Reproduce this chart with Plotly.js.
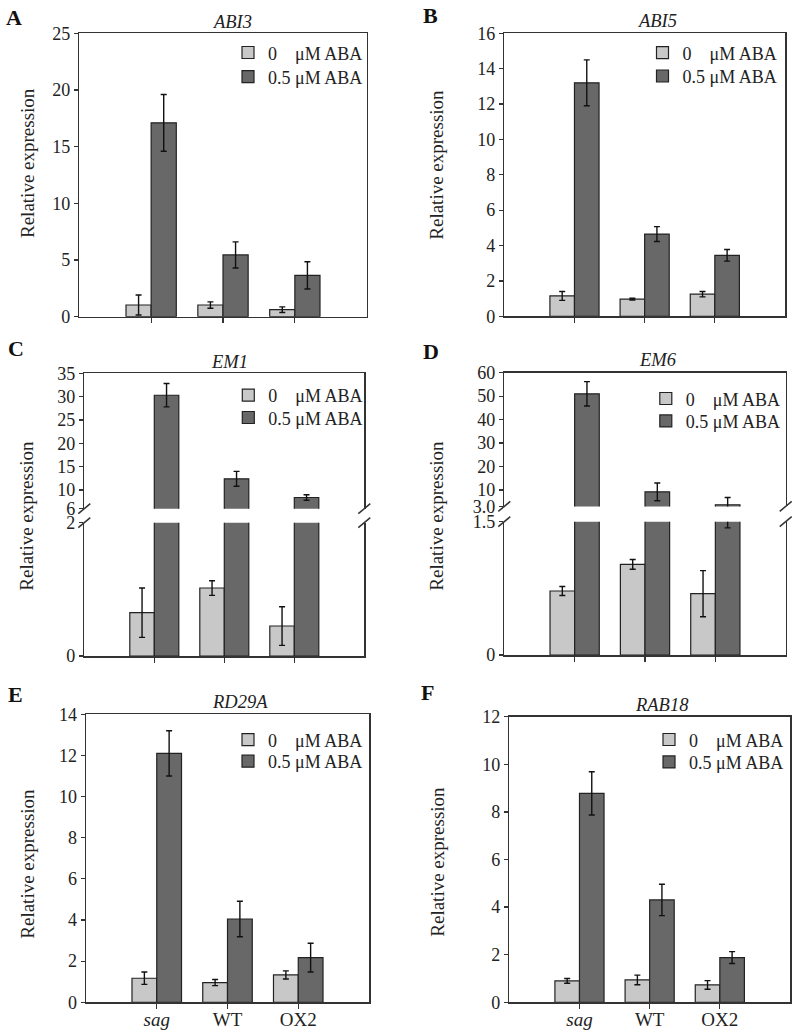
<!DOCTYPE html>
<html><head><meta charset="utf-8">
<script src="https://cdn.plot.ly/plotly-3.0.1.min.js"></script>
<style>body{margin:0;background:#fff}#chart{width:800px;height:1033px}</style>
</head><body><div id="chart"></div>
<script>
// ---------- data ----------
const categories = ['sag', 'WT', 'OX2'];
const categoryLabels = ['<i>sag</i>', 'WT', 'OX2'];
const genes = ['ABI3', 'ABI5', 'EM1', 'EM6', 'RD29A', 'RAB18'];
const panelLetters = ['A', 'B', 'C', 'D', 'E', 'F'];
const seriesNames = ['0\u00A0\u00A0\u00A0\u00A0\u03BCM ABA', '0.5 \u03BCM ABA'];
const yTitle = 'Relative expression';

const abi3Ctrl = [1.03, 1.03, 0.62], abi3CtrlErr = [0.88, 0.28, 0.25];
const abi3Aba = [17.1, 5.45, 3.65], abi3AbaErr = [2.5, 1.15, 1.2];

const abi5Ctrl = [1.15, 0.97, 1.25], abi5CtrlErr = [0.25, 0.05, 0.15];
const abi5Aba = [13.2, 4.65, 3.45], abi5AbaErr = [1.3, 0.42, 0.33];

const em1Ctrl = [0.65, 1.02, 0.45], em1CtrlErr = [0.37, 0.11, 0.29];
const em1Aba = [30.3, 12.4, 8.4], em1AbaErr = [2.5, 1.6, 0.6];

const em6Ctrl = [0.72, 1.02, 0.69], em6CtrlErr = [0.05, 0.055, 0.26];
const em6Aba = [51, 9.2, 3.7], em6AbaErr = [5.2, 3.8, 3.1], em6AbaErrMinus = [5.2, 3.8, 2.27];

const rd29aCtrl = [1.17, 0.96, 1.33], rd29aCtrlErr = [0.3, 0.15, 0.2];
const rd29aAba = [12.1, 4.05, 2.17], rd29aAbaErr = [1.1, 0.86, 0.7];

const rab18Ctrl = [0.9, 0.94, 0.73], rab18CtrlErr = [0.1, 0.2, 0.18];
const rab18Aba = [8.78, 4.3, 1.88], rab18AbaErr = [0.91, 0.66, 0.25];

// tick definitions
const ticksA = [0, 5, 10, 15, 20, 25];
const ticksB = [0, 2, 4, 6, 8, 10, 12, 14, 16];
const ticksCUpper = [6, 10, 15, 20, 25, 30, 35];
const ticksCLower = [0, 2];
const ticksDUpper = [3, 10, 20, 30, 40, 50, 60];
const ticksDUpperText = ['3.0', '10', '20', '30', '40', '50', '60'];
const ticksDLower = [0, 1.5];
const ticksDLowerText = ['0', '1.5'];
const ticksE = [0, 2, 4, 6, 8, 10, 12, 14];
const ticksF = [0, 2, 4, 6, 8, 10, 12];

// ---------- styling / geometry ----------
const W = 800, H = 1033;
const FONT = '"Liberation Serif", "Times New Roman", serif';
const LIGHT = '#c8c8c8', DARK = '#686868', EDGE = '#222', AXC = '#333';
const px = v => v / W;
const py = v => 1 - v / H;

// pixel boxes: [left, right], [top, bottom]
const geo = {
  A: {x: [79.3, 366.7], y: [33.3, 316.7]},
  B: {x: [504.3, 785], y: [33.3, 316.3]},
  C: {x: [84.3, 364.3], yu: [373.3, 508.7], yl: [522.7, 656]},
  D: {x: [504.3, 785.7], yu: [372.7, 506.4], yl: [521.7, 655]},
  E: {x: [86, 369], y: [714.3, 1002.3]},
  F: {x: [509.3, 790], y: [716.7, 1002.3]}
};
const xd = g => [px(g[0]), px(g[1])];
const yd = g => [py(g[1]), py(g[0])];

function bar(name, vals, err, errMinus, color, xa, ya, leg, show) {
  const e = {type: 'data', array: err, visible: true, color: '#111', thickness: 1.4, width: 3};
  if (errMinus) { e.symmetric = false; e.arrayminus = errMinus; }
  return {type: 'bar', x: categories, y: vals, name: name,
    marker: {color: color, line: {color: EDGE, width: 1.2}},
    error_y: e, xaxis: xa, yaxis: ya, legend: leg, showlegend: show, hoverinfo: 'skip'};
}

// one legend per entry: legend ids for [ctrl, aba] per panel
const legIds = [];
for (let i = 0; i < 12; i++) legIds.push(i === 0 ? 'legend' : 'legend' + (i + 1));
const L = (p, s) => legIds[p * 2 + s];

const traces = [
  bar(seriesNames[0], abi3Ctrl, abi3CtrlErr, null, LIGHT, 'x', 'y', L(0, 0), true),
  bar(seriesNames[1], abi3Aba, abi3AbaErr, null, DARK, 'x', 'y', L(0, 1), true),
  bar(seriesNames[0], abi5Ctrl, abi5CtrlErr, null, LIGHT, 'x2', 'y2', L(1, 0), true),
  bar(seriesNames[1], abi5Aba, abi5AbaErr, null, DARK, 'x2', 'y2', L(1, 1), true),
  // EM1 lower + upper segments
  bar(seriesNames[0], em1Ctrl, em1CtrlErr, null, LIGHT, 'x3', 'y3', L(2, 0), true),
  bar(seriesNames[1], em1Aba, em1AbaErr, null, DARK, 'x3', 'y3', L(2, 1), true),
  bar(seriesNames[0], em1Ctrl, em1CtrlErr, null, LIGHT, 'x7', 'y7', L(2, 0), false),
  bar(seriesNames[1], em1Aba, em1AbaErr, null, DARK, 'x7', 'y7', L(2, 1), false),
  // EM6 lower + upper segments
  bar(seriesNames[0], em6Ctrl, em6CtrlErr, null, LIGHT, 'x4', 'y4', L(3, 0), true),
  bar(seriesNames[1], em6Aba, em6AbaErr, em6AbaErrMinus, DARK, 'x4', 'y4', L(3, 1), true),
  bar(seriesNames[0], em6Ctrl, em6CtrlErr, null, LIGHT, 'x8', 'y8', L(3, 0), false),
  bar(seriesNames[1], em6Aba, em6AbaErr, em6AbaErrMinus, DARK, 'x8', 'y8', L(3, 1), false),
  bar(seriesNames[0], rd29aCtrl, rd29aCtrlErr, null, LIGHT, 'x5', 'y5', L(4, 0), true),
  bar(seriesNames[1], rd29aAba, rd29aAbaErr, null, DARK, 'x5', 'y5', L(4, 1), true),
  bar(seriesNames[0], rab18Ctrl, rab18CtrlErr, null, LIGHT, 'x6', 'y6', L(5, 0), true),
  bar(seriesNames[1], rab18Aba, rab18AbaErr, null, DARK, 'x6', 'y6', L(5, 1), true)
];

const tickfont = {family: FONT, size: 18, color: '#222'};
function xAxis(g, anchor, extra) {
  return Object.assign({domain: xd(g), anchor: anchor, type: 'category',
    categoryorder: 'array', categoryarray: categories, range: [-1, 3],
    showline: true, linecolor: AXC, linewidth: 1.5, mirror: true,
    ticks: 'outside', ticklen: 5, tickwidth: 1.2, tickcolor: AXC,
    showticklabels: false, showgrid: false, zeroline: false, fixedrange: true,
    tickfont: {family: FONT, size: 19, color: '#222'}}, extra || {});
}
function yAxis(g, anchor, range, vals, text, extra) {
  const o = {domain: yd(g), anchor: anchor, range: range, tickmode: 'array', tickvals: vals,
    showline: true, linecolor: AXC, linewidth: 1.5, mirror: true,
    ticks: 'outside', ticklen: 4, tickwidth: 1.2, tickcolor: AXC,
    showgrid: false, zeroline: false, fixedrange: true, tickfont: tickfont};
  if (text) o.ticktext = text;
  return Object.assign(o, extra || {});
}
const xLab = {showticklabels: true, tickmode: 'array', tickvals: categories, ticktext: categoryLabels,
  ticklabelstandoff: -6};

const layout = {
  width: W, height: H, margin: {l: 0, r: 0, t: 0, b: 0},
  paper_bgcolor: '#fff', plot_bgcolor: 'rgba(0,0,0,0)',
  barmode: 'group', bargap: 0.3, bargroupgap: 0,
  font: {family: FONT, size: 19, color: '#222'},
  xaxis: xAxis(geo.A.x, 'y'),
  yaxis: yAxis(geo.A.y, 'x', [0, 25], ticksA),
  xaxis2: xAxis(geo.B.x, 'y2'),
  yaxis2: yAxis(geo.B.y, 'x2', [0, 16], ticksB),
  xaxis3: xAxis(geo.C.x, 'y3', {mirror: false}),
  yaxis3: yAxis(geo.C.yl, 'x3', [0, 2], ticksCLower),
  xaxis7: xAxis(geo.C.x, 'y7', {side: 'top', mirror: false, ticks: ''}),
  yaxis7: yAxis(geo.C.yu, 'x7', [6, 35], ticksCUpper),
  xaxis4: xAxis(geo.D.x, 'y4', {mirror: false}),
  yaxis4: yAxis(geo.D.yl, 'x4', [0, 1.5], ticksDLower, ticksDLowerText),
  xaxis8: xAxis(geo.D.x, 'y8', {side: 'top', mirror: false, ticks: ''}),
  yaxis8: yAxis(geo.D.yu, 'x8', [3, 60], ticksDUpper, ticksDUpperText),
  xaxis5: xAxis(geo.E.x, 'y5', xLab),
  yaxis5: yAxis(geo.E.y, 'x5', [0, 14], ticksE),
  xaxis6: xAxis(geo.F.x, 'y6', xLab),
  yaxis6: yAxis(geo.F.y, 'x6', [0, 12], ticksF),
  annotations: [],
  shapes: []
};

// legend entries: symbol centre x, row centre y (px)
const legendSymX = [248, 662.5, 248.3, 665.8, 248, 669];
const legendRowY = [[52.3, 76.5], [52.5, 75.8], [395, 417.3], [398.3, 420.7], [739.5, 761], [739.3, 761.7]];
for (let p = 0; p < 6; p++) {
  for (let s = 0; s < 2; s++) {
    layout[L(p, s)] = {x: px(legendSymX[p] - 20), y: py(legendRowY[p][s] - 18), xanchor: 'left', yanchor: 'top',
      bgcolor: 'rgba(0,0,0,0)', borderwidth: 0, tracegroupgap: 0,
      font: {family: FONT, size: 18, color: '#222'}};
  }
}

// panel letters, gene titles, y titles
const letterPos = [[14.5, 17], [430, 16], [16, 348], [431, 351], [15, 694], [427.5, 692.5]];
const titlePos = [[232, 21.7], [656.7, 20.7], [230, 361.7], [658, 360], [240, 701.7], [661.7, 705]];
const yTitlePos = [[27, 163], [436.7, 165], [26.7, 516], [436.7, 516], [26.7, 864], [436.7, 862]];
for (let i = 0; i < 6; i++) {
  layout.annotations.push({text: '<b>' + panelLetters[i] + '</b>', x: px(letterPos[i][0]), y: py(letterPos[i][1]),
    xref: 'paper', yref: 'paper', showarrow: false, xanchor: 'center', yanchor: 'middle',
    font: {family: FONT, size: 22, color: '#111'}});
  layout.annotations.push({text: '<i>' + genes[i] + '</i>', x: px(titlePos[i][0]), y: py(titlePos[i][1]),
    xref: 'paper', yref: 'paper', showarrow: false, xanchor: 'center', yanchor: 'middle',
    font: {family: FONT, size: 18.5, color: '#222'}});
  layout.annotations.push({text: yTitle, x: px(yTitlePos[i][0]), y: py(yTitlePos[i][1]), textangle: -90,
    xref: 'paper', yref: 'paper', showarrow: false, xanchor: 'center', yanchor: 'middle',
    font: {family: FONT, size: 19, color: '#222'}});
}

// axis-break slashes
[[geo.C.x, geo.C.yu[1], geo.C.yl[0]], [geo.D.x, geo.D.yu[1], geo.D.yl[0]]].forEach(([xs, yEnd, yStart]) => {
  xs.forEach(xv => {
    [yEnd, yStart].forEach(yv => {
      layout.shapes.push({type: 'line', xref: 'paper', yref: 'paper',
        x0: px(xv - 6), y0: py(yv + 5), x1: px(xv + 6), y1: py(yv - 5),
        line: {color: AXC, width: 1.5}});
    });
  });
});

Plotly.newPlot('chart', traces, layout, {displayModeBar: false, staticPlot: true});
</script>
</body></html>
